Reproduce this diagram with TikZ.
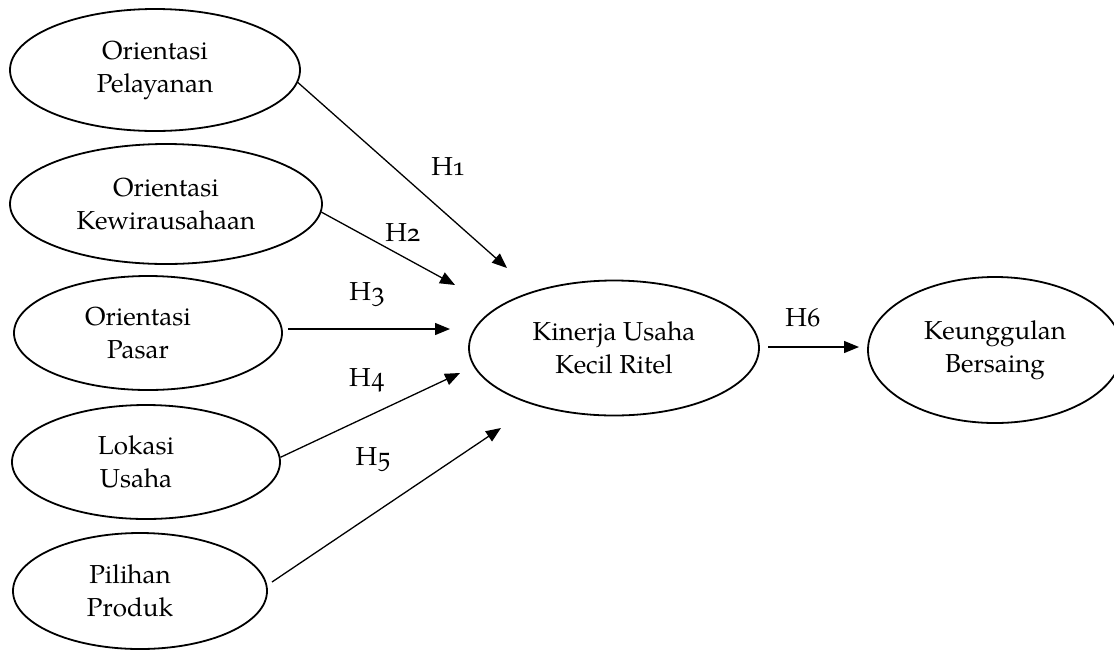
\documentclass[tikz,border=0pt]{standalone}
\usepackage{fontspec}
\setmainfont{texgyrepagella-regular.otf}[Numbers=OldStyle]
\usetikzlibrary{shapes.geometric,arrows.meta}
\newcommand{\lft}[1]{#1\hspace*{20pt}}
\tikzset{
  var/.style={ellipse, draw, line width=1.8pt, inner sep=0pt, align=center,
    font=\fontsize{26}{33}\selectfont},
  link/.style={line width=1.3pt, -{Triangle[length=15pt,width=12pt]}},
  hlabel/.style={font=\fontsize{26}{28}\selectfont, inner sep=0pt}
}
\begin{document}
\begin{tikzpicture}[x=1pt,y=-1pt]
\useasboundingbox (0,0) rectangle (1114,649);
\node[var, minimum width=290pt, minimum height=122pt] (e1) at (155,70) {Orientasi\\Pelayanan};
\node[var, minimum width=312pt, minimum height=120pt] (e2) at (166,204) {Orientasi\\Kewirausahaan};
\node[var, minimum width=268pt, minimum height=114pt] (e3) at (148,333) {\lft{Orientasi}\\\lft{Pasar}};
\node[var, minimum width=268pt, minimum height=114pt] (e4) at (146,462) {\lft{Lokasi}\\\lft{Usaha}};
\node[var, minimum width=254pt, minimum height=116pt] (e5) at (140,591) {\lft{Pilihan}\\\lft{Produk}};
\node[var, minimum width=290pt, minimum height=135pt] (k) at (614,348) {Kinerja Usaha\\Kecil Ritel};
\node[var, minimum width=254pt, minimum height=146pt] (b) at (995,350) {Keunggulan\\Bersaing};

\coordinate (t1) at (507,268);
\coordinate (t2) at (455,285);
\coordinate (t3) at (450,329);
\coordinate (t4) at (460,373);
\coordinate (t5) at (501,428);
\coordinate (s3) at (288,329);
\coordinate (s5) at (272,582);
\coordinate (s6) at (768,347);
\coordinate (t6) at (859,347);

\draw[link] (e1.-5) -- (t1);
\draw[link] (e2.-3) -- (t2);
\draw[link] (s3) -- (t3);
\draw[link] (e4.2) -- (t4);
\draw[link] (s5) -- (t5);
\draw[link] (s6) -- (t6);

\node[hlabel] (h1) at (448,167) {H1};
\node[hlabel] (h2) at (403,233) {H2};
\node[hlabel] (h3) at (367,295) {H3};
\node[hlabel] (h4) at (367,380) {H4};
\node[hlabel] (h5) at (373,460) {H5};
\node[hlabel] (h6) at (803,318) {H6};
\end{tikzpicture}
\end{document}
